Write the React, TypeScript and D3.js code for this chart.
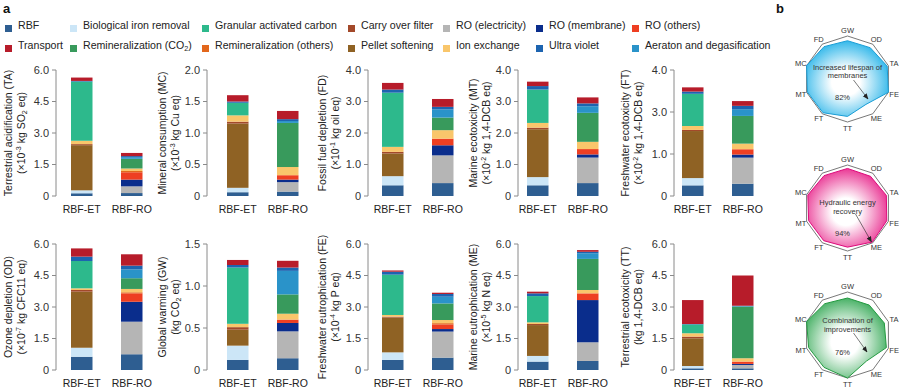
import React from 'react';
import * as d3 from 'd3';

const FONT = '"Liberation Sans", Arial, Helvetica, sans-serif';

const categories = ['RBF-ET', 'RBF-RO'];

// stacking order, bottom to top
const stackKeys = [
  'RBF', 'Biological iron removal', 'RO (electricity)', 'RO (membrane)', 'RO (others)',
  'Remineralization (others)', 'Pellet softening', 'Carry over filter', 'Ion exchange',
  'Granular activated carbon', 'Remineralization (CO_{2})', 'Aeraton and degasification',
  'Ultra violet', 'Transport',
];
const stackColors = [
  '#2e5e91', '#cce6f7', '#b5b5b5', '#0a2d8c', '#ee3f22',
  '#e2671c', '#8f6224', '#a3492a', '#f9c66b',
  '#2db98c', '#389a5c', '#2a93c9',
  '#1d64b0', '#b71c2a',
];

const legendRow1 = ['RBF', 'Biological iron removal', 'Granular activated carbon', 'Carry over filter', 'RO (electricity)', 'RO (membrane)', 'RO (others)'];
const legendRow2 = ['Transport', 'Remineralization (CO_{2})', 'Remineralization (others)', 'Pellet softening', 'Ion exchange', 'Ultra violet', 'Aeraton and degasification'];
const legendX = [5, 70, 202, 348, 443, 536, 632];

// segment values, same order as stackKeys
const taET = [0.13, 0.14, 0, 0, 0, 0, 2.15, 0.05, 0.16, 2.82, 0, 0, 0.03, 0.16];
const taRO = [0.14, 0, 0.32, 0.32, 0.35, 0.06, 0, 0, 0.12, 0, 0.46, 0.08, 0.05, 0.15];
const mcET = [0.06, 0.07, 0, 0, 0, 0, 1.02, 0.03, 0.1, 0.2, 0, 0, 0.02, 0.1];
const mcRO = [0.07, 0, 0.15, 0.04, 0.07, 0, 0, 0, 0.13, 0, 0.7, 0.03, 0.03, 0.13];
const fdET = [0.34, 0.29, 0, 0, 0, 0, 0.72, 0.05, 0.16, 1.72, 0, 0, 0.1, 0.21];
const fdRO = [0.41, 0, 0.88, 0.32, 0.21, 0, 0, 0, 0.27, 0, 0.4, 0.26, 0.08, 0.25];
const mtET = [0.34, 0.26, 0, 0, 0, 0, 1.52, 0.05, 0.15, 1.06, 0, 0, 0.11, 0.14];
const mtRO = [0.41, 0, 0.81, 0.1, 0.17, 0, 0, 0, 0.23, 0, 0.92, 0.21, 0.09, 0.19];
const ftET = [0.38, 0.26, 0, 0, 0, 0, 1.68, 0.04, 0.14, 1.15, 0, 0, 0.08, 0.15];
const ftRO = [0.44, 0, 0.93, 0.11, 0.19, 0, 0, 0, 0.2, 0, 0.99, 0.24, 0.12, 0.17];
const odET = [0.63, 0.43, 0, 0, 0, 0, 2.67, 0.08, 0.08, 1.3, 0, 0, 0.21, 0.39];
const odRO = [0.75, 0, 1.55, 0.95, 0.4, 0.05, 0, 0, 0.16, 0, 0.51, 0.42, 0.18, 0.54];
const gwET = [0.12, 0.17, 0, 0, 0, 0, 0.19, 0.03, 0.04, 0.67, 0, 0, 0.03, 0.06];
const gwRO = [0.14, 0, 0.32, 0.1, 0.04, 0, 0, 0, 0.07, 0, 0.23, 0.28, 0.04, 0.08];
const feET = [0.48, 0.36, 0, 0, 0, 0, 1.66, 0.04, 0.08, 1.92, 0, 0, 0.14, 0.06];
const feRO = [0.59, 0, 1.24, 0.12, 0.22, 0.06, 0, 0, 0.15, 0, 0.79, 0.32, 0.13, 0.06];
const meET = [0.4, 0.27, 0, 0, 0, 0, 1.47, 0.05, 0.08, 1.25, 0, 0, 0.13, 0.08];
const meRO = [0.43, 0, 0.89, 2.01, 0.32, 0, 0, 0, 0.16, 0, 1.48, 0.27, 0.07, 0.08];
const ttET = [0.08, 0.11, 0, 0, 0, 0, 1.32, 0.08, 0.16, 0.42, 0, 0, 0.02, 1.14];
const ttRO = [0.08, 0, 0.16, 0.05, 0.11, 0, 0, 0, 0.16, 0, 2.46, 0.02, 0.02, 1.44];

const ticks6 = [0, 1.5, 3, 4.5, 6];
const ticks4 = [0, 1, 2, 3, 4];
const ticks2 = [0, 0.5, 1, 1.5, 2];
const ticks15 = [0, 0.5, 1, 1.5];
const ticksFT = [0, 1.5, 3, 4.5];
const ticksFTLabels = ['0', '1.0', '3.0', '4.0'];

const colAxisX = [56, 207, 368, 518, 674];
const colBarX = [71, 227, 382, 527, 682];
const colLabelOff = [-44, -41, -42, -41, -45];
const rowY = [[196, 70], [370, 244]];

const panels = [
  { row: 0, col: 0, max: 6, ticks: ticks6, l1: 'Terrestrial acidification (TA)', l2: '(×10^{-3} kg SO_{2} eq)', et: taET, ro: taRO },
  { row: 0, col: 1, max: 2, ticks: ticks2, l1: 'Mineral consumption (MC)', l2: '(×10^{-3} kg Cu eq)', et: mcET, ro: mcRO },
  { row: 0, col: 2, max: 4, ticks: ticks4, l1: 'Fossil fuel depletion (FD)', l2: '(×10^{-1} kg oil eq)', et: fdET, ro: fdRO },
  { row: 0, col: 3, max: 4, ticks: ticks4, l1: 'Marine ecotoxicity (MT)', l2: '(×10^{-2} kg 1,4-DCB eq)', et: mtET, ro: mtRO },
  { row: 0, col: 4, max: 4.5, ticks: ticksFT, tickLabels: ticksFTLabels, l1: 'Freshwater ecotoxicity (FT)', l2: '(×10^{-2} kg 1,4-DCB eq)', et: ftET, ro: ftRO },
  { row: 1, col: 0, max: 6, ticks: ticks6, l1: 'Ozone depletion (OD)', l2: '(×10^{-7} kg CFC11 eq)', et: odET, ro: odRO },
  { row: 1, col: 1, max: 1.5, ticks: ticks15, l1: 'Global warming (GW)', l2: '(kg CO_{2} eq)', et: gwET, ro: gwRO },
  { row: 1, col: 2, max: 6, ticks: ticks6, l1: 'Freshwater eutrophication (FE)', l2: '(×10^{-4} kg P eq)', et: feET, ro: feRO },
  { row: 1, col: 3, max: 6, ticks: ticks6, l1: 'Marine eutrophication (ME)', l2: '(×10^{-5} kg N eq)', et: meET, ro: meRO },
  { row: 1, col: 4, max: 6, ticks: ticks6, l1: 'Terrestrial ecotoxicity (TT)', l2: '(kg 1,4-DCB eq)', et: ttET, ro: ttRO },
];

// radar (panel b)
const radarAxes = ['GW', 'OD', 'TA', 'FE', 'ME', 'TT', 'FT', 'MT', 'MC', 'FD'];
const membraneValues = [0.89, 0.9, 0.97, 1.0, 0.73, 0.87, 0.97, 0.98, 1.0, 0.93];
const hydraulicValues = [0.92, 0.91, 0.95, 0.96, 0.98, 0.91, 0.94, 0.95, 0.97, 0.93];
const combinationValues = [0.86, 0.86, 0.9, 0.95, 0.75, 1.0, 0.93, 0.95, 1.0, 0.9];

const radars = [
  { cy: 79, vals: membraneValues, color: '#22b2e8', stroke: '#1b9ed6', lines: ['Increased lifespan of', 'membranes'], ly: [-12, -3.5], pct: '82%', py: 18, arrow: [6, 1, 20.5, 20] },
  { cy: 208, vals: hydraulicValues, color: '#e8288c', stroke: '#de0b7c', lines: ['Hydraulic energy', 'recovery'], ly: [-6, 3], pct: '94%', py: 25, arrow: [8, 6, 24, 34] },
  { cy: 335, vals: combinationValues, color: '#3aab5a', stroke: '#249a41', lines: ['Combination of', 'improvements'], ly: [-15, -6], pct: '76%', py: 17, arrow: [6, -2, 19.5, 17] },
];

function parts(s: string) {
  const out: { t: string; k: string }[] = [];
  const re = /\^\{([^}]*)\}|_\{([^}]*)\}|([^^_]+)/g;
  let m: RegExpExecArray | null;
  while ((m = re.exec(s))) {
    if (m[1] !== undefined) out.push({ t: m[1], k: 'sup' });
    else if (m[2] !== undefined) out.push({ t: m[2], k: 'sub' });
    else out.push({ t: m[3], k: 'n' });
  }
  return out;
}

function Rich({ s, size }: { s: string; size: number }) {
  let shift = 0;
  return (
    <>
      {parts(s).map((p, i) => {
        const target = p.k === 'sup' ? -size * 0.38 : p.k === 'sub' ? size * 0.25 : 0;
        const dy = target - shift;
        shift = target;
        return (
          <tspan key={i} dy={dy} fontSize={p.k === 'n' ? size : size * 0.68}>{p.t}</tspan>
        );
      })}
    </>
  );
}

function BarPanel({ p }: { p: any }) {
  const ax = colAxisX[p.col];
  const [y0, y1] = rowY[p.row];
  const y = d3.scaleLinear().domain([0, p.max]).range([y0, y1]);
  const x = d3.scaleBand().domain(categories).range([colBarX[p.col], colBarX[p.col] + 71.5]).paddingInner(0.57);
  const rows = categories.map((c, ci) => {
    const vals = ci === 0 ? p.et : p.ro;
    const r: any = { cat: c };
    stackKeys.forEach((k, i) => (r[k] = vals[i]));
    return r;
  });
  const series = d3.stack().keys(stackKeys)(rows);
  const ym = (y0 + y1) / 2;
  const lo = colLabelOff[p.col];
  return (
    <g>
      {series.map((s, si) =>
        s.map((d: any, di) =>
          d[1] - d[0] > 0 ? (
            <rect key={`${si}-${di}`} x={x(d.data.cat)} width={x.bandwidth()}
              y={y(d[1])} height={y(d[0]) - y(d[1])} fill={stackColors[si]} />
          ) : null
        )
      )}
      <line x1={ax} x2={ax} y1={y(0)} y2={y(p.max)} stroke="#8a8a8a" strokeWidth={1} />
      {p.ticks.map((t: number, i: number) => (
        <g key={t} transform={`translate(0,${y(t)})`}>
          <line x1={ax - 4} x2={ax} stroke="#8a8a8a" strokeWidth={1} />
          <text x={ax - 7} dy="0.35em" textAnchor="end" fontSize={11} fill="#333">
            {p.tickLabels ? p.tickLabels[i] : t === 0 ? '0' : d3.format('.1f')(t)}
          </text>
        </g>
      ))}
      {categories.map((c) => (
        <text key={c} x={(x(c) as number) + x.bandwidth() / 2} y={y0 + 17} textAnchor="middle" fontSize={10.5} fill="#222">{c}</text>
      ))}
      <g transform={`translate(${ax + lo},${ym}) rotate(-90)`}>
        <text textAnchor="middle" fontSize={10.5} fill="#222">{p.l1}</text>
        <text textAnchor="middle" y={12.5} fontSize={10.5} fill="#222"><Rich s={p.l2} size={10.5} /></text>
      </g>
    </g>
  );
}

function Radar({ r, idx }: { r: any; idx: number }) {
  const cx = 847.5;
  const rs = d3.scaleLinear().domain([0, 1]).range([0, 43]);
  const line = d3.lineRadial<number>()
    .angle((_, i) => (i / radarAxes.length) * 2 * Math.PI)
    .radius((d) => rs(d))
    .curve(d3.curveLinearClosed);
  const outer = line(radarAxes.map(() => 1)) as string;
  const inner = line(r.vals) as string;
  const gid = `rg${idx}`;
  return (
    <g transform={`translate(${cx},${r.cy})`}>
      <defs>
        <radialGradient id={gid} cx="48%" cy="55%" r="58%">
          <stop offset="0%" stopColor="#ffffff" />
          <stop offset="30%" stopColor="#ffffff" />
          <stop offset="100%" stopColor={r.color} />
        </radialGradient>
      </defs>
      <path d={outer} fill="#fff" stroke="#555" strokeWidth={0.8} />
      <path d={inner} fill={`url(#${gid})`} stroke={r.stroke} strokeWidth={1} />
      {radarAxes.map((a, i) => {
        const ang = (i / radarAxes.length) * 2 * Math.PI;
        const rr = 49;
        return (
          <text key={a} x={rr * Math.sin(ang)} y={-rr * Math.cos(ang)} dy="0.35em" textAnchor="middle" fontSize={7.5} fill="#333">{a}</text>
        );
      })}
      {r.lines.map((t: string, i: number) => (
        <text key={t} x={0} y={r.ly[i]} dy="0.35em" textAnchor="middle" fontSize={7.5} fill="#333">{t}</text>
      ))}
      <text x={-5} y={r.py} dy="0.35em" textAnchor="middle" fontSize={7.5} fill="#333">{r.pct}</text>
      <line x1={r.arrow[0]} y1={r.arrow[1]} x2={r.arrow[2]} y2={r.arrow[3]} stroke="#222" strokeWidth={0.6} markerEnd="url(#arrowhead)" />
    </g>
  );
}

export default function App() {
  return (
    <svg width={899} height={389} style={{ position: 'absolute', left: 0, top: 0, background: '#fff' }} fontFamily={FONT}>
      <defs>
        <marker id="arrowhead" viewBox="0 0 10 10" refX="9" refY="5" markerWidth="6" markerHeight="6" orient="auto" markerUnits="userSpaceOnUse">
          <path d="M0,1 L10,5 L0,9 z" fill="#222" />
        </marker>
      </defs>
      <rect width={899} height={389} fill="#fff" />
      <text x={3} y={13} fontSize={13} fontWeight="bold" fill="#111">a</text>
      <text x={776} y={13} fontSize={13} fontWeight="bold" fill="#111">b</text>
      {[legendRow1, legendRow2].map((row, ri) =>
        row.map((k, i) => (
          <g key={k} transform={`translate(${legendX[i]},${ri === 0 ? 28.5 : 48.5})`}>
            <rect x={0} y={-3.5} width={7} height={7} fill={stackColors[stackKeys.indexOf(k)]} />
            <text x={13} dy="0.35em" fontSize={10.6} fill="#222"><Rich s={k} size={10.6} /></text>
          </g>
        ))
      )}
      {panels.map((p, i) => <BarPanel key={i} p={p} />)}
      {radars.map((r, i) => <Radar key={i} r={r} idx={i} />)}
    </svg>
  );
}
